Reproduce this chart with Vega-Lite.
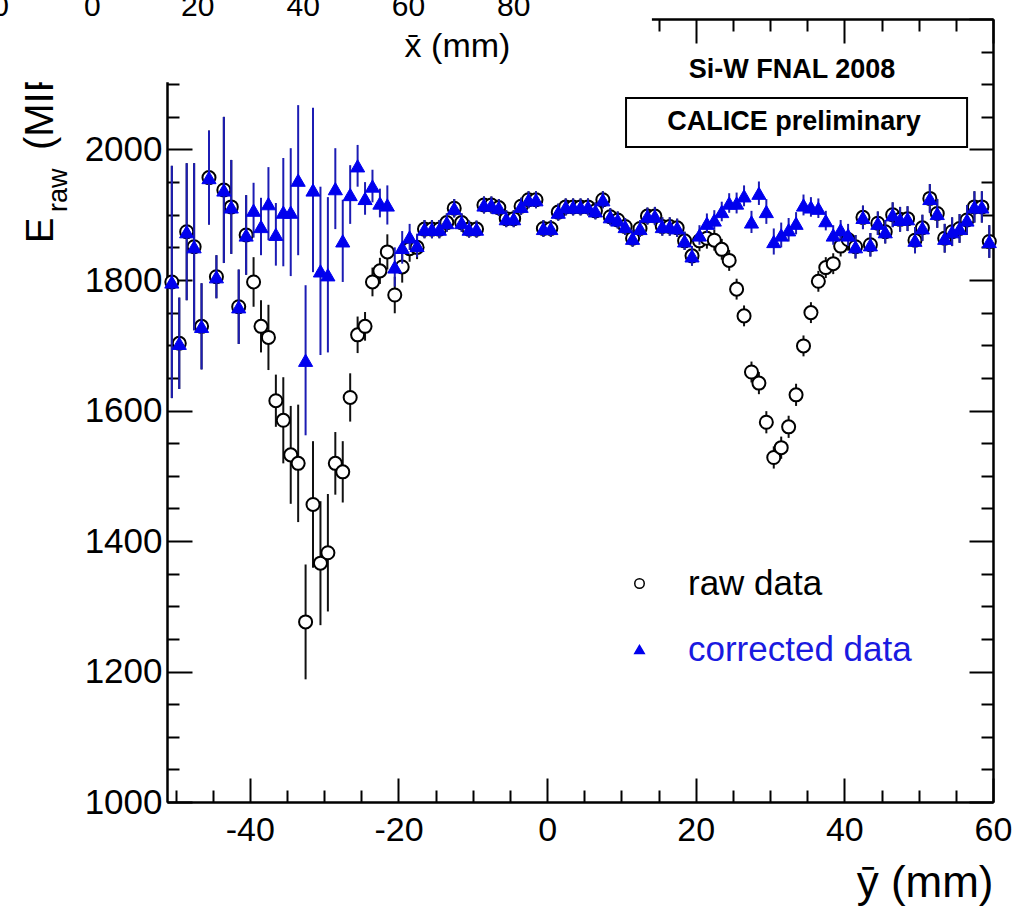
{
"$schema": "https://vega.github.io/schema/vega-lite/v6.json",
"width": 826, "height": 783,
"autosize": {"type": "none"},
"padding": {"left": 167, "top": 19, "right": 25, "bottom": 104},
"background": "white",
"config": {"view": {"stroke": null}, "font": "Liberation Sans"},
"datasets": {"pts": [
{"pos":-50.5,"series":"raw data","E":1797,"err":178},{"pos":-49.5,"series":"raw data","E":1703,"err":70},{"pos":-48.5,"series":"raw data","E":1874,"err":105},{"pos":-47.5,"series":"raw data","E":1851,"err":128},{"pos":-46.5,"series":"raw data","E":1729,"err":66},{"pos":-45.5,"series":"raw data","E":1957,"err":72},{"pos":-44.5,"series":"raw data","E":1805,"err":33},{"pos":-43.5,"series":"raw data","E":1938,"err":112},{"pos":-42.5,"series":"raw data","E":1912,"err":72},{"pos":-41.5,"series":"raw data","E":1759,"err":57},{"pos":-40.5,"series":"raw data","E":1869,"err":61},{"pos":-39.5,"series":"raw data","E":1797,"err":38},{"pos":-38.5,"series":"raw data","E":1729,"err":40},{"pos":-37.5,"series":"raw data","E":1712,"err":50},{"pos":-36.5,"series":"raw data","E":1615,"err":40},{"pos":-35.5,"series":"raw data","E":1585,"err":66},{"pos":-34.5,"series":"raw data","E":1532,"err":75},{"pos":-33.5,"series":"raw data","E":1519,"err":90},{"pos":-32.5,"series":"raw data","E":1276,"err":88},{"pos":-31.5,"series":"raw data","E":1456,"err":97},{"pos":-30.5,"series":"raw data","E":1366,"err":95},{"pos":-29.5,"series":"raw data","E":1382,"err":90},{"pos":-28.5,"series":"raw data","E":1519,"err":48},{"pos":-27.5,"series":"raw data","E":1506,"err":47},{"pos":-26.5,"series":"raw data","E":1620,"err":37},{"pos":-25.5,"series":"raw data","E":1716,"err":28},{"pos":-24.5,"series":"raw data","E":1729,"err":22},{"pos":-23.5,"series":"raw data","E":1797,"err":22},{"pos":-22.5,"series":"raw data","E":1814,"err":20},{"pos":-21.5,"series":"raw data","E":1843,"err":27},{"pos":-20.5,"series":"raw data","E":1777,"err":28},{"pos":-19.5,"series":"raw data","E":1820,"err":24},{"pos":-18.5,"series":"raw data","E":1848,"err":20},{"pos":-17.5,"series":"raw data","E":1850,"err":18},
{"pos":-16.5,"series":"raw data","E":1878,"err":14},{"pos":-15.5,"series":"raw data","E":1878,"err":14},{"pos":-14.5,"series":"raw data","E":1878,"err":14},{"pos":-13.5,"series":"raw data","E":1888,"err":14},{"pos":-12.5,"series":"raw data","E":1910,"err":14},{"pos":-11.5,"series":"raw data","E":1888,"err":14},{"pos":-10.5,"series":"raw data","E":1878,"err":13},{"pos":-9.5,"series":"raw data","E":1878,"err":13},{"pos":-8.5,"series":"raw data","E":1915,"err":13},{"pos":-7.5,"series":"raw data","E":1915,"err":13},{"pos":-6.5,"series":"raw data","E":1911,"err":13},{"pos":-5.5,"series":"raw data","E":1894,"err":13},{"pos":-4.5,"series":"raw data","E":1894,"err":13},{"pos":-3.5,"series":"raw data","E":1913,"err":13},{"pos":-2.5,"series":"raw data","E":1923,"err":13},{"pos":-1.5,"series":"raw data","E":1923,"err":13},{"pos":-0.5,"series":"raw data","E":1879,"err":13},{"pos":0.5,"series":"raw data","E":1879,"err":13},{"pos":1.5,"series":"raw data","E":1904,"err":13},{"pos":2.5,"series":"raw data","E":1912,"err":13},{"pos":3.5,"series":"raw data","E":1912,"err":13},{"pos":4.5,"series":"raw data","E":1912,"err":13},{"pos":5.5,"series":"raw data","E":1912,"err":13},{"pos":6.5,"series":"raw data","E":1906,"err":13},{"pos":7.5,"series":"raw data","E":1923,"err":13},{"pos":8.5,"series":"raw data","E":1897,"err":13},{"pos":9.5,"series":"raw data","E":1892,"err":13},{"pos":10.5,"series":"raw data","E":1882,"err":13},{"pos":11.5,"series":"raw data","E":1864,"err":13},{"pos":12.5,"series":"raw data","E":1879,"err":13},{"pos":13.5,"series":"raw data","E":1898,"err":13},{"pos":14.5,"series":"raw data","E":1898,"err":14},{"pos":15.5,"series":"raw data","E":1882,"err":14},{"pos":16.5,"series":"raw data","E":1882,"err":14},{"pos":17.5,"series":"raw data","E":1880,"err":14},{"pos":18.5,"series":"raw data","E":1860,"err":14},{"pos":19.5,"series":"raw data","E":1837,"err":15},
{"pos":20.5,"series":"raw data","E":1860,"err":16},{"pos":21.5,"series":"raw data","E":1864,"err":16},{"pos":22.5,"series":"raw data","E":1861,"err":16},{"pos":23.5,"series":"raw data","E":1847,"err":16},{"pos":24.5,"series":"raw data","E":1830,"err":16},{"pos":25.5,"series":"raw data","E":1786,"err":16},{"pos":26.5,"series":"raw data","E":1745,"err":16},{"pos":27.5,"series":"raw data","E":1659,"err":16},{"pos":28.5,"series":"raw data","E":1642,"err":17},{"pos":29.5,"series":"raw data","E":1582,"err":17},{"pos":30.5,"series":"raw data","E":1528,"err":17},{"pos":31.5,"series":"raw data","E":1543,"err":17},{"pos":32.5,"series":"raw data","E":1575,"err":17},{"pos":33.5,"series":"raw data","E":1624,"err":17},{"pos":34.5,"series":"raw data","E":1699,"err":16},{"pos":35.5,"series":"raw data","E":1750,"err":16},{"pos":36.5,"series":"raw data","E":1798,"err":16},{"pos":37.5,"series":"raw data","E":1819,"err":16},{"pos":38.5,"series":"raw data","E":1825,"err":16},{"pos":39.5,"series":"raw data","E":1852,"err":16},{"pos":40.5,"series":"raw data","E":1862,"err":17},
{"pos":41.5,"series":"raw data","E":1851,"err":18},{"pos":42.5,"series":"raw data","E":1896,"err":18},{"pos":43.5,"series":"raw data","E":1854,"err":18},{"pos":44.5,"series":"raw data","E":1887,"err":18},{"pos":45.5,"series":"raw data","E":1874,"err":18},{"pos":46.5,"series":"raw data","E":1900,"err":19},{"pos":47.5,"series":"raw data","E":1893,"err":19},{"pos":48.5,"series":"raw data","E":1894,"err":19},{"pos":49.5,"series":"raw data","E":1861,"err":20},{"pos":50.5,"series":"raw data","E":1880,"err":20},{"pos":51.5,"series":"raw data","E":1925,"err":22},{"pos":52.5,"series":"raw data","E":1902,"err":22},{"pos":53.5,"series":"raw data","E":1864,"err":22},{"pos":54.5,"series":"raw data","E":1874,"err":22},{"pos":55.5,"series":"raw data","E":1879,"err":22},{"pos":56.5,"series":"raw data","E":1892,"err":23},{"pos":57.5,"series":"raw data","E":1912,"err":24},{"pos":58.5,"series":"raw data","E":1912,"err":24},{"pos":59.5,"series":"raw data","E":1859,"err":25},
{"pos":-50.5,"series":"corrected data","E":1797,"err":178},{"pos":-49.5,"series":"corrected data","E":1703,"err":70},{"pos":-48.5,"series":"corrected data","E":1874,"err":105},{"pos":-47.5,"series":"corrected data","E":1851,"err":128},{"pos":-46.5,"series":"corrected data","E":1729,"err":66},{"pos":-45.5,"series":"corrected data","E":1957,"err":72},{"pos":-44.5,"series":"corrected data","E":1805,"err":33},{"pos":-43.5,"series":"corrected data","E":1938,"err":112},{"pos":-42.5,"series":"corrected data","E":1912,"err":72},{"pos":-41.5,"series":"corrected data","E":1759,"err":57},{"pos":-40.5,"series":"corrected data","E":1869,"err":61},{"pos":-39.5,"series":"corrected data","E":1907,"err":42},{"pos":-38.5,"series":"corrected data","E":1882,"err":44},{"pos":-37.5,"series":"corrected data","E":1917,"err":56},{"pos":-36.5,"series":"corrected data","E":1870,"err":48},{"pos":-35.5,"series":"corrected data","E":1904,"err":83},{"pos":-34.5,"series":"corrected data","E":1904,"err":98},{"pos":-33.5,"series":"corrected data","E":1953,"err":115},{"pos":-32.5,"series":"corrected data","E":1677,"err":115},{"pos":-31.5,"series":"corrected data","E":1938,"err":126},{"pos":-30.5,"series":"corrected data","E":1814,"err":129},{"pos":-29.5,"series":"corrected data","E":1808,"err":119},{"pos":-28.5,"series":"corrected data","E":1940,"err":62},{"pos":-27.5,"series":"corrected data","E":1860,"err":63},{"pos":-26.5,"series":"corrected data","E":1931,"err":45},{"pos":-25.5,"series":"corrected data","E":1975,"err":32},{"pos":-24.5,"series":"corrected data","E":1925,"err":25},{"pos":-23.5,"series":"corrected data","E":1944,"err":25},{"pos":-22.5,"series":"corrected data","E":1918,"err":22},{"pos":-21.5,"series":"corrected data","E":1915,"err":30},{"pos":-20.5,"series":"corrected data","E":1820,"err":30},{"pos":-19.5,"series":"corrected data","E":1850,"err":25},{"pos":-18.5,"series":"corrected data","E":1866,"err":20},{"pos":-17.5,"series":"corrected data","E":1853,"err":18},
{"pos":-16.5,"series":"corrected data","E":1878,"err":14},{"pos":-15.5,"series":"corrected data","E":1878,"err":14},{"pos":-14.5,"series":"corrected data","E":1878,"err":14},{"pos":-13.5,"series":"corrected data","E":1888,"err":14},{"pos":-12.5,"series":"corrected data","E":1910,"err":14},{"pos":-11.5,"series":"corrected data","E":1888,"err":14},{"pos":-10.5,"series":"corrected data","E":1878,"err":13},{"pos":-9.5,"series":"corrected data","E":1878,"err":13},{"pos":-8.5,"series":"corrected data","E":1915,"err":13},{"pos":-7.5,"series":"corrected data","E":1915,"err":13},{"pos":-6.5,"series":"corrected data","E":1911,"err":13},{"pos":-5.5,"series":"corrected data","E":1894,"err":13},{"pos":-4.5,"series":"corrected data","E":1894,"err":13},{"pos":-3.5,"series":"corrected data","E":1913,"err":13},{"pos":-2.5,"series":"corrected data","E":1923,"err":13},{"pos":-1.5,"series":"corrected data","E":1923,"err":13},{"pos":-0.5,"series":"corrected data","E":1879,"err":13},{"pos":0.5,"series":"corrected data","E":1879,"err":13},{"pos":1.5,"series":"corrected data","E":1904,"err":13},{"pos":2.5,"series":"corrected data","E":1912,"err":13},{"pos":3.5,"series":"corrected data","E":1912,"err":13},{"pos":4.5,"series":"corrected data","E":1912,"err":13},{"pos":5.5,"series":"corrected data","E":1912,"err":13},{"pos":6.5,"series":"corrected data","E":1906,"err":13},{"pos":7.5,"series":"corrected data","E":1923,"err":13},{"pos":8.5,"series":"corrected data","E":1897,"err":13},{"pos":9.5,"series":"corrected data","E":1892,"err":13},{"pos":10.5,"series":"corrected data","E":1882,"err":13},{"pos":11.5,"series":"corrected data","E":1864,"err":13},{"pos":12.5,"series":"corrected data","E":1879,"err":13},{"pos":13.5,"series":"corrected data","E":1898,"err":13},{"pos":14.5,"series":"corrected data","E":1898,"err":14},{"pos":15.5,"series":"corrected data","E":1882,"err":14},{"pos":16.5,"series":"corrected data","E":1882,"err":14},{"pos":17.5,"series":"corrected data","E":1880,"err":14},{"pos":18.5,"series":"corrected data","E":1860,"err":14},{"pos":19.5,"series":"corrected data","E":1837,"err":15},
{"pos":20.5,"series":"corrected data","E":1869,"err":15},{"pos":21.5,"series":"corrected data","E":1887,"err":15},{"pos":22.5,"series":"corrected data","E":1892,"err":15},{"pos":23.5,"series":"corrected data","E":1905,"err":15},{"pos":24.5,"series":"corrected data","E":1918,"err":15},{"pos":25.5,"series":"corrected data","E":1918,"err":16},{"pos":26.5,"series":"corrected data","E":1929,"err":16},{"pos":27.5,"series":"corrected data","E":1889,"err":17},{"pos":28.5,"series":"corrected data","E":1933,"err":18},{"pos":29.5,"series":"corrected data","E":1905,"err":19},{"pos":30.5,"series":"corrected data","E":1859,"err":20},{"pos":31.5,"series":"corrected data","E":1869,"err":19},{"pos":32.5,"series":"corrected data","E":1877,"err":18},{"pos":33.5,"series":"corrected data","E":1887,"err":17},{"pos":34.5,"series":"corrected data","E":1915,"err":16},{"pos":35.5,"series":"corrected data","E":1912,"err":15},{"pos":36.5,"series":"corrected data","E":1910,"err":15},{"pos":37.5,"series":"corrected data","E":1891,"err":15},{"pos":38.5,"series":"corrected data","E":1869,"err":15},{"pos":39.5,"series":"corrected data","E":1877,"err":15},{"pos":40.5,"series":"corrected data","E":1869,"err":17},
{"pos":41.5,"series":"corrected data","E":1851,"err":18},{"pos":42.5,"series":"corrected data","E":1896,"err":18},{"pos":43.5,"series":"corrected data","E":1854,"err":18},{"pos":44.5,"series":"corrected data","E":1887,"err":18},{"pos":45.5,"series":"corrected data","E":1874,"err":18},{"pos":46.5,"series":"corrected data","E":1900,"err":19},{"pos":47.5,"series":"corrected data","E":1893,"err":19},{"pos":48.5,"series":"corrected data","E":1894,"err":19},{"pos":49.5,"series":"corrected data","E":1861,"err":20},{"pos":50.5,"series":"corrected data","E":1880,"err":20},{"pos":51.5,"series":"corrected data","E":1925,"err":22},{"pos":52.5,"series":"corrected data","E":1902,"err":22},{"pos":53.5,"series":"corrected data","E":1864,"err":22},{"pos":54.5,"series":"corrected data","E":1874,"err":22},{"pos":55.5,"series":"corrected data","E":1879,"err":22},{"pos":56.5,"series":"corrected data","E":1892,"err":23},{"pos":57.5,"series":"corrected data","E":1912,"err":24},{"pos":58.5,"series":"corrected data","E":1912,"err":24},{"pos":59.5,"series":"corrected data","E":1859,"err":25}
]},
"data": {"name": "pts"},
"resolve": {"axis": {"x": "independent", "y": "independent"}},
"layer": [
{"transform": [{"filter": "datum.series == 'raw data'"}],
 "mark": {"type": "errorbar", "color": "#111111", "thickness": 2},
 "encoding": {
  "x": {"field": "pos", "type": "quantitative", "scale": {"domain": [-51.15, 60], "nice": false, "zero": false},
   "axis": {"orient": "bottom", "values": [-40, -20, 0, 20, 40, 60], "labelExpr": "'' + datum.value", "tickSize": -24, "tickWidth": 2, "tickColor": "#000000", "domainColor": "#000000", "domainWidth": 2, "grid": false, "labelFont": "Liberation Sans", "labelFontSize": 34, "labelColor": "#000000", "labelPadding": 35, "labelFlush": false, "labelOverlap": false, "labelBaseline": "top", "title": "ȳ (mm)", "titleFont": "Liberation Sans", "titleFontSize": 44, "titleFontWeight": "normal", "titleColor": "#000000", "titleAlign": "right", "titleAnchor": "end", "titleBaseline": "alphabetic", "titleX": 826, "titleY": 94}},
  "y": {"field": "E", "type": "quantitative", "scale": {"domain": [1000, 2200], "nice": false, "zero": false},
   "axis": {"orient": "left", "values": [1000, 1200, 1400, 1600, 1800, 2000], "labelExpr": "'' + datum.value", "tickSize": -25, "tickWidth": 2, "tickColor": "#000000", "domainColor": "#000000", "domainWidth": 2, "grid": false, "labelFont": "Liberation Sans", "labelFontSize": 35, "labelColor": "#000000", "labelPadding": 30, "labelFlush": false, "labelOverlap": false, "title": null}},
  "yError": {"field": "err"}}},
{"transform": [{"filter": "datum.series == 'raw data'"}],
 "mark": {"type": "point", "size": 170, "strokeWidth": 2, "opacity": 1, "fillOpacity": 1, "filled": true},
 "encoding": {
  "x": {"field": "pos", "type": "quantitative",
   "axis": {"orient": "bottom", "values": [-50, -45, -35, -30, -25, -15, -10, -5, 5, 10, 15, 25, 30, 35, 45, 50, 55], "tickSize": -12, "tickWidth": 2, "tickColor": "#000000", "domainColor": "#000000", "domainWidth": 2, "grid": false, "labels": false, "title": null}},
  "y": {"field": "E", "type": "quantitative",
   "axis": {"orient": "left", "values": [1050, 1100, 1150, 1250, 1300, 1350, 1450, 1500, 1550, 1650, 1700, 1750, 1850, 1900, 1950, 2050, 2100, 2150], "tickSize": -12, "tickWidth": 2, "tickColor": "#000000", "domainColor": "#000000", "domainWidth": 2, "grid": false, "labels": false, "title": null}},
  "shape": {"field": "series", "type": "nominal", "scale": {"domain": ["raw data", "corrected data"], "range": ["circle", "triangle-up"]},
   "legend": {"orient": "none", "legendX": 455, "legendY": 547, "title": null, "padding": 0, "labelFont": "Liberation Sans", "labelFontSize": 35, "labelLimit": 0, "labelColor": {"expr": "datum.label == 'corrected data' ? '#1a1ae0' : '#000000'"}, "labelOffset": 31, "rowPadding": 30, "symbolSize": 90, "symbolStrokeWidth": 1.5, "direction": "vertical"}},
  "fill": {"field": "series", "type": "nominal", "scale": {"domain": ["raw data", "corrected data"], "range": ["#ffffff", "#0000ee"]},
   "legend": {"orient": "none", "legendX": 455, "legendY": 547, "title": null, "padding": 0, "labelFont": "Liberation Sans", "labelFontSize": 35, "labelLimit": 0, "labelColor": {"expr": "datum.label == 'corrected data' ? '#1a1ae0' : '#000000'"}, "labelOffset": 31, "rowPadding": 30, "symbolSize": 90, "symbolStrokeWidth": 1.5, "direction": "vertical"}},
  "stroke": {"field": "series", "type": "nominal", "scale": {"domain": ["raw data", "corrected data"], "range": ["#000000", "#0000ee"]},
   "legend": {"orient": "none", "legendX": 455, "legendY": 547, "title": null, "padding": 0, "labelFont": "Liberation Sans", "labelFontSize": 35, "labelLimit": 0, "labelColor": {"expr": "datum.label == 'corrected data' ? '#1a1ae0' : '#000000'"}, "labelOffset": 31, "rowPadding": 30, "symbolSize": 90, "symbolStrokeWidth": 1.5, "direction": "vertical"}}}},
{"transform": [{"filter": "datum.series == 'corrected data'"}],
 "mark": {"type": "errorbar", "color": "#1c1cb4", "thickness": 2},
 "encoding": {
  "x": {"field": "pos", "type": "quantitative",
   "axis": {"orient": "top", "values": [-40, -20, 0, 20, 40, 60], "tickSize": -24, "tickWidth": 2, "tickColor": "#000000", "domainColor": "#000000", "domainWidth": 2, "grid": false, "labels": false, "title": null}},
  "y": {"field": "E", "type": "quantitative",
   "axis": {"orient": "right", "values": [1000, 1200, 1400, 1600, 1800, 2000, 2200], "tickSize": -24, "tickWidth": 2, "tickColor": "#000000", "domainColor": "#000000", "domainWidth": 2, "grid": false, "labels": false, "title": null}},
  "yError": {"field": "err"}}},
{"transform": [{"filter": "datum.series == 'corrected data'"}],
 "mark": {"type": "point", "size": 200, "strokeWidth": 1, "opacity": 1, "fillOpacity": 1, "filled": true},
 "encoding": {
  "x": {"field": "pos", "type": "quantitative",
   "axis": {"orient": "top", "values": [-50, -45, -35, -30, -25, -15, -10, -5, 5, 10, 15, 25, 30, 35, 45, 50, 55], "tickSize": -12, "tickWidth": 2, "tickColor": "#000000", "domainColor": "#000000", "domainWidth": 2, "grid": false, "labels": false, "title": null}},
  "y": {"field": "E", "type": "quantitative",
   "axis": {"orient": "right", "values": [1050, 1100, 1150, 1250, 1300, 1350, 1450, 1500, 1550, 1650, 1700, 1750, 1850, 1900, 1950, 2050, 2100, 2150], "tickSize": -12, "tickWidth": 2, "tickColor": "#000000", "domainColor": "#000000", "domainWidth": 2, "grid": false, "labels": false, "title": null}},
  "shape": {"field": "series", "type": "nominal"},
  "fill": {"field": "series", "type": "nominal"},
  "stroke": {"field": "series", "type": "nominal"}}},
{"data": {"values": [{"label": "E"}]},
 "mark": {"type": "text", "font": "Liberation Sans", "fontSize": 38, "angle": 270, "align": "left", "baseline": "alphabetic", "color": "#000000"},
 "encoding": {"x": {"datum": -66.45, "type": "quantitative", "axis": null}, "y": {"datum": 1856.7, "type": "quantitative", "axis": null}, "text": {"field": "label"}}},
{"data": {"values": [{"label": "raw"}]},
 "mark": {"type": "text", "font": "Liberation Sans", "fontSize": 27, "angle": 270, "align": "left", "baseline": "alphabetic", "color": "#000000"},
 "encoding": {"x": {"datum": -64.65, "type": "quantitative", "axis": null}, "y": {"datum": 1904.2, "type": "quantitative", "axis": null}, "text": {"field": "label"}}},
{"data": {"values": [{"label": "(MIP)"}]},
 "mark": {"type": "text", "font": "Liberation Sans", "fontSize": 40, "angle": 270, "align": "left", "baseline": "alphabetic", "color": "#000000"},
 "encoding": {"x": {"datum": -66.45, "type": "quantitative", "axis": null}, "y": {"datum": 1999.2, "type": "quantitative", "axis": null}, "text": {"field": "label"}}},
{"data": {"values": [{}]},
 "mark": {"type": "rect", "fill": "#ffffff"},
 "encoding": {"x": {"datum": -80, "type": "quantitative", "axis": null}, "x2": {"datum": 14.1}, "y": {"datum": 2103, "type": "quantitative", "axis": null}, "y2": {"datum": 2260}}},
{"data": {"values": [{}]},
 "mark": {"type": "rect", "fill": "#ffffff", "stroke": "#000000", "strokeWidth": 2},
 "encoding": {"x": {"datum": 10.62, "type": "quantitative", "axis": null}, "x2": {"datum": 56.51}, "y": {"datum": 2004, "type": "quantitative", "axis": null}, "y2": {"datum": 2079}}},
{"data": {"values": [{"label": "Si-W FNAL 2008"}]},
 "mark": {"type": "text", "font": "Liberation Sans", "fontSize": 27, "fontWeight": "bold", "align": "center", "baseline": "alphabetic", "color": "#000000"},
 "encoding": {"x": {"datum": 32.96, "type": "quantitative", "axis": null}, "y": {"datum": 2109.2, "type": "quantitative", "axis": null}, "text": {"field": "label"}}},
{"data": {"values": [{"label": "CALICE preliminary"}]},
 "mark": {"type": "text", "font": "Liberation Sans", "fontSize": 27, "fontWeight": "bold", "align": "center", "baseline": "alphabetic", "color": "#000000"},
 "encoding": {"x": {"datum": 33.23, "type": "quantitative", "axis": null}, "y": {"datum": 2029.9, "type": "quantitative", "axis": null}, "text": {"field": "label"}}},
{"data": {"values": [{"label": "-20"}]},
 "mark": {"type": "text", "font": "Liberation Sans", "fontSize": 30, "align": "center", "baseline": "alphabetic", "color": "#000000"},
 "encoding": {"x": {"datum": -75.35, "type": "quantitative", "axis": null}, "y": {"datum": 2204.6, "type": "quantitative", "axis": null}, "text": {"field": "label"}}},
{"data": {"values": [{"label": "0"}]},
 "mark": {"type": "text", "font": "Liberation Sans", "fontSize": 30, "align": "center", "baseline": "alphabetic", "color": "#000000"},
 "encoding": {"x": {"datum": -61.18, "type": "quantitative", "axis": null}, "y": {"datum": 2204.6, "type": "quantitative", "axis": null}, "text": {"field": "label"}}},
{"data": {"values": [{"label": "20"}]},
 "mark": {"type": "text", "font": "Liberation Sans", "fontSize": 30, "align": "center", "baseline": "alphabetic", "color": "#000000"},
 "encoding": {"x": {"datum": -47.01, "type": "quantitative", "axis": null}, "y": {"datum": 2204.6, "type": "quantitative", "axis": null}, "text": {"field": "label"}}},
{"data": {"values": [{"label": "40"}]},
 "mark": {"type": "text", "font": "Liberation Sans", "fontSize": 30, "align": "center", "baseline": "alphabetic", "color": "#000000"},
 "encoding": {"x": {"datum": -32.83, "type": "quantitative", "axis": null}, "y": {"datum": 2204.6, "type": "quantitative", "axis": null}, "text": {"field": "label"}}},
{"data": {"values": [{"label": "60"}]},
 "mark": {"type": "text", "font": "Liberation Sans", "fontSize": 30, "align": "center", "baseline": "alphabetic", "color": "#000000"},
 "encoding": {"x": {"datum": -18.66, "type": "quantitative", "axis": null}, "y": {"datum": 2204.6, "type": "quantitative", "axis": null}, "text": {"field": "label"}}},
{"data": {"values": [{"label": "80"}]},
 "mark": {"type": "text", "font": "Liberation Sans", "fontSize": 30, "align": "center", "baseline": "alphabetic", "color": "#000000"},
 "encoding": {"x": {"datum": -4.49, "type": "quantitative", "axis": null}, "y": {"datum": 2204.6, "type": "quantitative", "axis": null}, "text": {"field": "label"}}},
{"data": {"values": [{"label": "x̄ (mm)"}]},
 "mark": {"type": "text", "font": "Liberation Sans", "fontSize": 34, "align": "center", "baseline": "alphabetic", "color": "#000000"},
 "encoding": {"x": {"datum": -12.06, "type": "quantitative", "axis": null}, "y": {"datum": 2142.2, "type": "quantitative", "axis": null}, "text": {"field": "label"}}}
]
}
